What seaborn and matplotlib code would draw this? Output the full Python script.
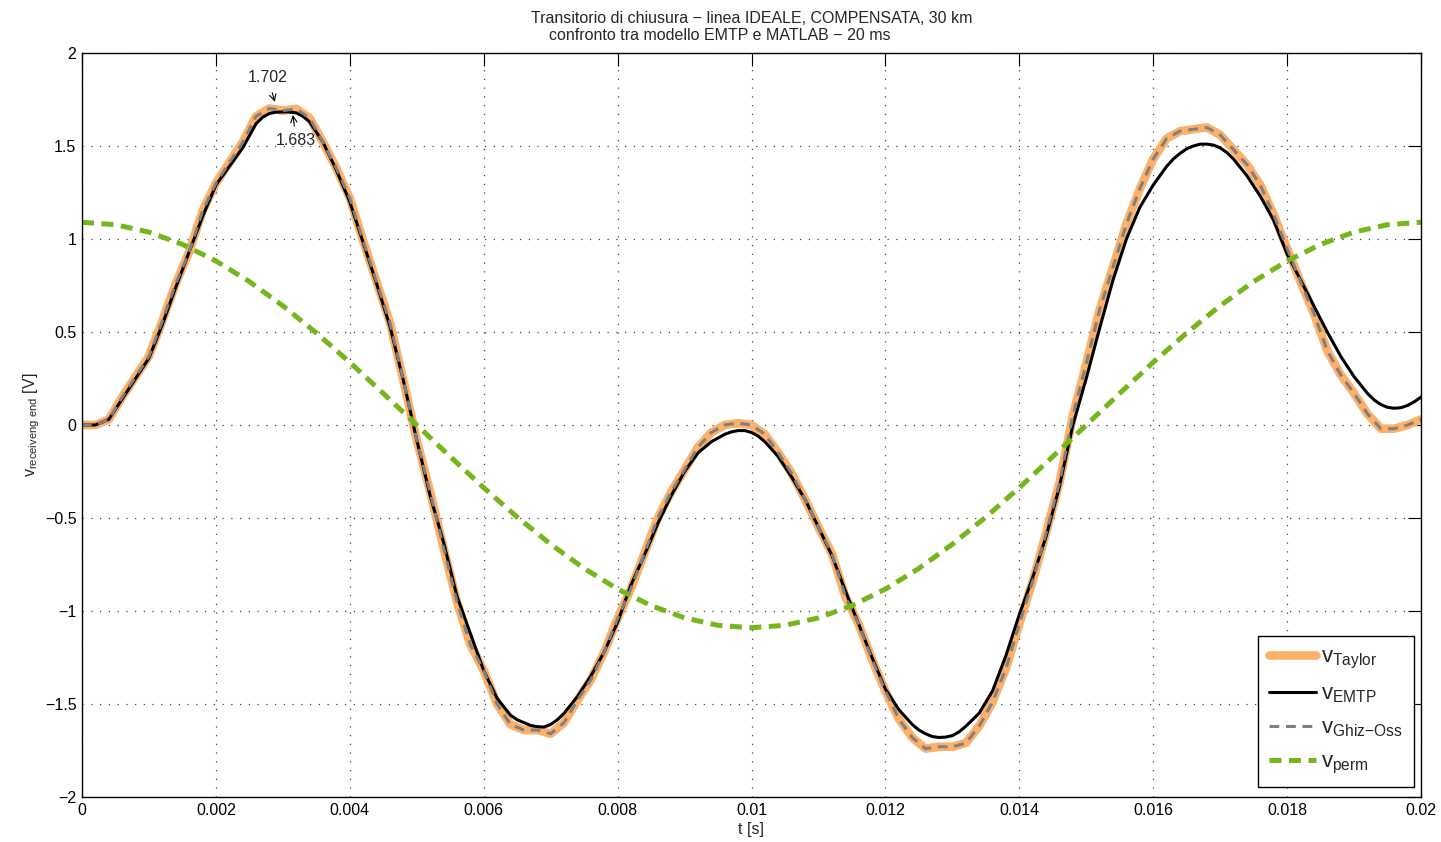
import matplotlib

matplotlib.use("Agg")
import matplotlib.pyplot as plt
import numpy as np
import pandas as pd
import seaborn as sns

# time base of the transient curves (s)
t_grid = [round(0.0002 * k, 4) for k in range(101)]

v_emtp = [
    0.00, 0.00, 0.03, 0.14, 0.25, 0.36, 0.54, 0.74, 0.93, 1.12,
    1.29, 1.39, 1.49, 1.62, 1.675, 1.683, 1.678, 1.63, 1.52, 1.37,
    1.20, 0.98, 0.76, 0.53, 0.24, -0.08, -0.38, -0.63, -0.92, -1.12,
    -1.32, -1.47, -1.56, -1.60, -1.622, -1.61, -1.55, -1.46, -1.35, -1.22,
    -1.06, -0.86, -0.70, -0.53, -0.38, -0.25, -0.15, -0.09, -0.05, -0.03,
    -0.04, -0.09, -0.17, -0.28, -0.40, -0.55, -0.70, -0.89, -1.07, -1.25,
    -1.42, -1.53, -1.61, -1.66, -1.68, -1.67, -1.62, -1.55, -1.43, -1.24,
    -1.02, -0.82, -0.60, -0.33, 0.00, 0.25, 0.52, 0.78, 1.00, 1.17,
    1.29, 1.39, 1.46, 1.50, 1.51, 1.49, 1.43, 1.34, 1.23, 1.10,
    0.92, 0.78, 0.64, 0.50, 0.37, 0.26, 0.17, 0.11, 0.09, 0.105,
    0.15,
]

# extra EMTP readings around the extrema (smooth curve)
t_emtp_fine = [
    0.0027, 0.0029, 0.0031, 0.0033,
    0.0065, 0.0067, 0.0069, 0.0071,
    0.0095, 0.0097, 0.0099, 0.0101,
    0.0125, 0.0127, 0.0129, 0.0131,
    0.0163, 0.0165, 0.0167, 0.0169, 0.0171,
    0.0193, 0.0195, 0.0197, 0.0199,
]
v_emtp_fine = [
    1.655, 1.682, 1.683, 1.66,
    -1.585, -1.615, -1.624, -1.585,
    -0.07, -0.037, -0.03, -0.06,
    -1.64, -1.675, -1.678, -1.65,
    1.43, 1.485, 1.51, 1.505, 1.465,
    0.135, 0.095, 0.093, 0.125,
]

v_taylor = [
    0.00, 0.00, 0.03, 0.15, 0.26, 0.37, 0.56, 0.76, 0.93, 1.15,
    1.30, 1.41, 1.52, 1.66, 1.702, 1.69, 1.70, 1.65, 1.52, 1.38,
    1.22, 0.99, 0.77, 0.55, 0.24, -0.08, -0.36, -0.66, -0.95, -1.18,
    -1.32, -1.50, -1.61, -1.64, -1.64, -1.66, -1.60, -1.48, -1.37, -1.22,
    -1.04, -0.88, -0.69, -0.50, -0.36, -0.24, -0.12, -0.04, 0.00, 0.01,
    0.00, -0.05, -0.15, -0.26, -0.40, -0.55, -0.69, -0.92, -1.07, -1.26,
    -1.43, -1.58, -1.68, -1.74, -1.73, -1.73, -1.71, -1.62, -1.49, -1.31,
    -1.07, -0.84, -0.58, -0.31, 0.05, 0.33, 0.62, 0.85, 1.08, 1.27,
    1.43, 1.54, 1.58, 1.59, 1.60, 1.56, 1.48, 1.40, 1.29, 1.13,
    0.95, 0.77, 0.60, 0.40, 0.27, 0.17, 0.06, -0.02, -0.02, 0.00,
    0.03,
]

# Ghizzetti-Ossicini result lies on top of the Taylor one
v_ghiz = list(v_taylor)

# steady state (permanent) voltage, every 0.5 ms
t_perm = [round(0.0005 * k, 4) for k in range(41)]
v_perm = [
    1.090, 1.077, 1.037, 0.971, 0.882, 0.771, 0.641, 0.495, 0.337, 0.170,
    0.000, -0.170, -0.337, -0.495, -0.641, -0.771, -0.882, -0.971, -1.037, -1.077,
    -1.090, -1.077, -1.037, -0.971, -0.882, -0.771, -0.641, -0.495, -0.337, -0.170,
    0.000, 0.170, 0.337, 0.495, 0.641, 0.771, 0.882, 0.971, 1.037, 1.077,
    1.090,
]

x_ticks = [0, 0.002, 0.004, 0.006, 0.008, 0.01, 0.012, 0.014, 0.016, 0.018, 0.02]
x_tick_labels = ["0", "0.002", "0.004", "0.006", "0.008", "0.01",
                 "0.012", "0.014", "0.016", "0.018", "0.02"]
y_ticks = [-2, -1.5, -1, -0.5, 0, 0.5, 1, 1.5, 2]
y_tick_labels = ["\u22122", "\u22121.5", "\u22121", "\u22120.5", "0", "0.5", "1", "1.5", "2"]

title_lines = [
    "Transitorio di chiusura \u2212 linea IDEALE, COMPENSATA, 30 km",
    "confronto tra modello EMTP e MATLAB \u2212 20 ms",
]

sns.set_style("white")
plt.rcParams["font.family"] = ["Liberation Sans", "DejaVu Sans"]
plt.rcParams["mathtext.fontset"] = "custom"
plt.rcParams["mathtext.rm"] = "Liberation Sans"

FS = 11.5

fig = plt.figure(figsize=(14.41, 8.42), dpi=100)
ax = fig.add_axes([82 / 1441, 1 - 797 / 842, 1339 / 1441, 744 / 842])

df = pd.DataFrame({"t": t_grid, "taylor": v_taylor, "ghiz": v_ghiz})
emtp_df = pd.concat([
    pd.DataFrame({"t": t_grid, "emtp": v_emtp}),
    pd.DataFrame({"t": t_emtp_fine, "emtp": v_emtp_fine}),
]).sort_values("t")
perm_df = pd.DataFrame({"t": t_perm, "perm": v_perm})

sns.lineplot(data=df, x="t", y="taylor", ax=ax, color="#fdb069", lw=6.2,
             sort=False, solid_capstyle="round", solid_joinstyle="round",
             label=r"v$_{\mathrm{Taylor}}$")
sns.lineplot(data=emtp_df, x="t", y="emtp", ax=ax, color="black", lw=2.2,
             sort=False, label=r"v$_{\mathrm{EMTP}}$")
sns.lineplot(data=df, x="t", y="ghiz", ax=ax, color="#808080", lw=2.2,
             sort=False, linestyle=(0, (3.2, 2.2)),
             label=r"v$_{\mathrm{Ghiz{-}Oss}}$")
sns.lineplot(data=perm_df, x="t", y="perm", ax=ax, color="#77b51d", lw=3.6,
             sort=False, linestyle=(0, (2.4, 1.5)), label=r"v$_{\mathrm{perm}}$")

ax.set_xlim(0, 0.02)
ax.set_ylim(-2, 2)
ax.set_xticks(x_ticks)
ax.set_xticklabels(x_tick_labels)
ax.set_yticks(y_ticks)
ax.set_yticklabels(y_tick_labels)
ax.tick_params(direction="in", length=9.5, width=0.8, labelsize=FS,
               top=True, right=True, colors="black", pad=4)
ax.grid(True, linestyle=(0, (1, 6)), color="#444444", lw=0.9)
for sp in ax.spines.values():
    sp.set_color("black")
    sp.set_linewidth(1.0)

ax.set_xlabel("t [s]", fontsize=FS, labelpad=3)
ax.set_ylabel(r"v$_{\mathrm{receiveng\ end}}$ [V]", fontsize=FS, labelpad=2)

ax.text(0.5, 1.047, title_lines[0], transform=ax.transAxes, ha="center",
        va="center", fontsize=FS)
ax.text(0.476, 1.023, title_lines[1], transform=ax.transAxes, ha="center",
        va="center", fontsize=FS)

# peak markers
ax.annotate("1.702", xy=(0.00288, 1.737), xytext=(0.00278, 1.866),
            ha="center", va="center", fontsize=FS,
            arrowprops=dict(arrowstyle="->", color="black", lw=0.8,
                            shrinkA=3, shrinkB=0))
ax.annotate("1.683", xy=(0.00315, 1.667), xytext=(0.0032, 1.527),
            ha="center", va="center", fontsize=FS,
            arrowprops=dict(arrowstyle="->", color="black", lw=0.8,
                            shrinkA=3, shrinkB=0))

leg = ax.legend(loc="lower right", bbox_to_anchor=(0.9948, 0.0134),
                borderaxespad=0, fontsize=16, handlelength=2.1,
                fancybox=False, framealpha=1, edgecolor="black",
                labelspacing=0.55, borderpad=0.5, handletextpad=0.25)
leg.get_frame().set_linewidth(1.0)

fig.savefig("out.png", dpi=100)
plt.close(fig)
